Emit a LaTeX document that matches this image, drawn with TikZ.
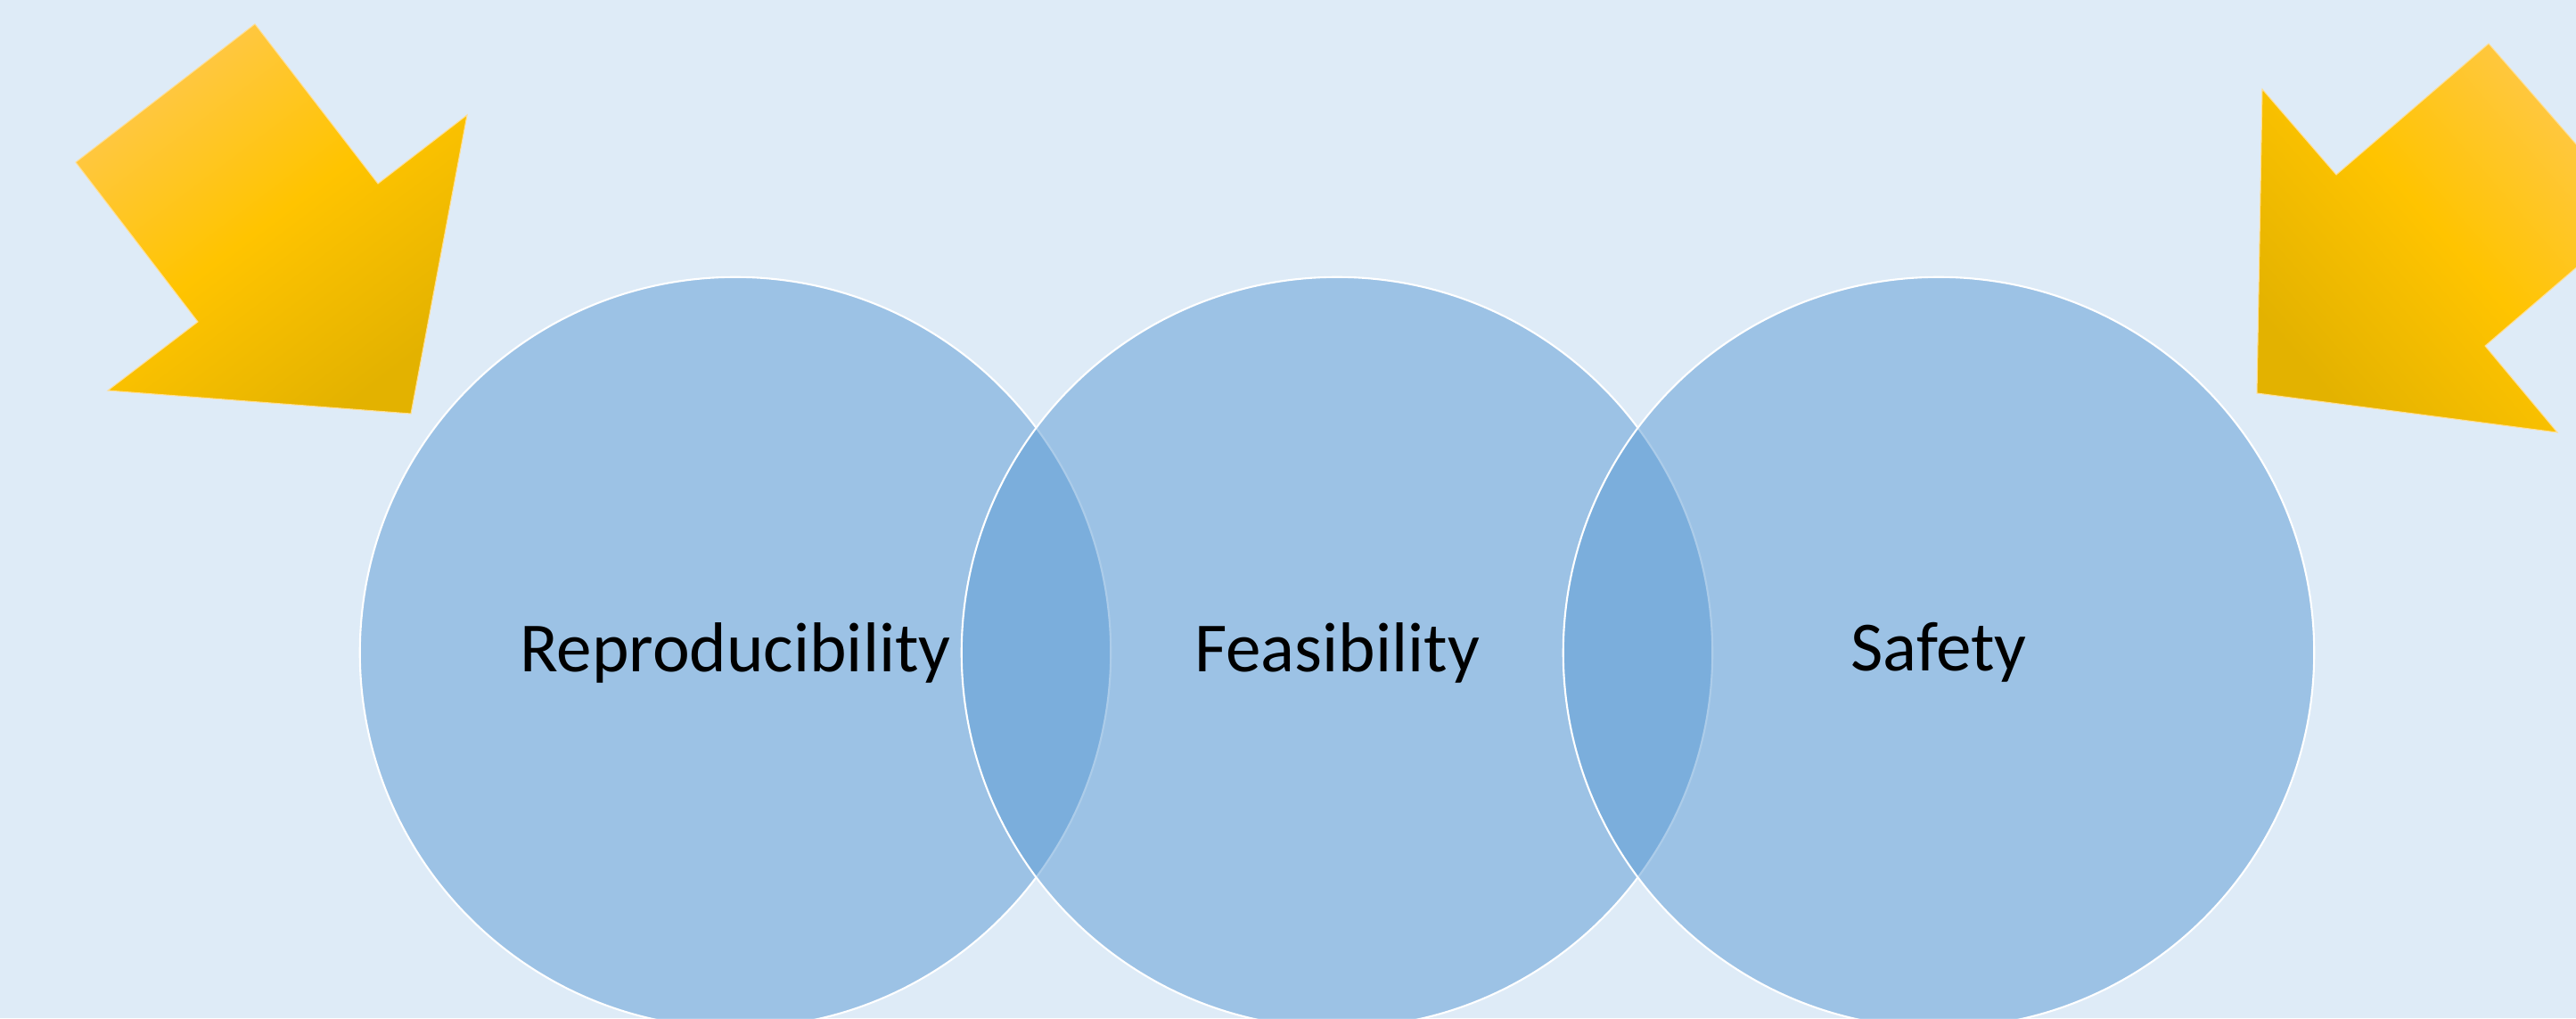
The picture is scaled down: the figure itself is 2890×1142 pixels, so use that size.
\documentclass[tikz,border=0pt]{standalone}
\usepackage{fontspec}
\setmainfont{Carlito}
\definecolor{paleblue}{HTML}{DEEBF7}
\definecolor{venncol}{HTML}{5B9BD5}
\definecolor{goldlight}{HTML}{FFC84A}
\definecolor{goldmid}{HTML}{FFC400}
\definecolor{golddark}{HTML}{E3B200}
\begin{document}
\begin{tikzpicture}[x=0.01cm,y=-0.01cm,
        venn/.style={circle,minimum size=8.42cm,inner sep=0pt,fill=venncol,fill opacity=0.5,text opacity=1,
            draw=white,line width=0.6pt,font=\fontsize{22.5}{27}\selectfont},
        goldarrow/.style={top color=goldlight,bottom color=golddark,middle color=goldmid,
            draw=goldlight!60!white,line width=0.3pt}]
            \useasboundingbox (0,0) rectangle (2890,1142);
            \fill[paleblue] (0,0) rectangle (2890,1142);
            \clip (0,0) rectangle (2890,1142);
            \node[venn] (repro) at (825,732) {Reproducibility};
            \node[venn] (feas) at (1500,732) {Feasibility};
            \node[venn] (safe) at (2175,732) {Safety};
            \draw[goldarrow,shading angle=37] (286,27) -- (424,206) -- (524,129) -- (461,464)
                -- (121,438) -- (222,361) -- (85,182) -- cycle;
            \draw[goldarrow,shading angle=-49] (2792,49) -- (2959,241) -- (2788,388) -- (2869,485)
                -- (2532,441) -- (2538,100) -- (2621,196) -- cycle;
        \end{tikzpicture}
\end{document}
